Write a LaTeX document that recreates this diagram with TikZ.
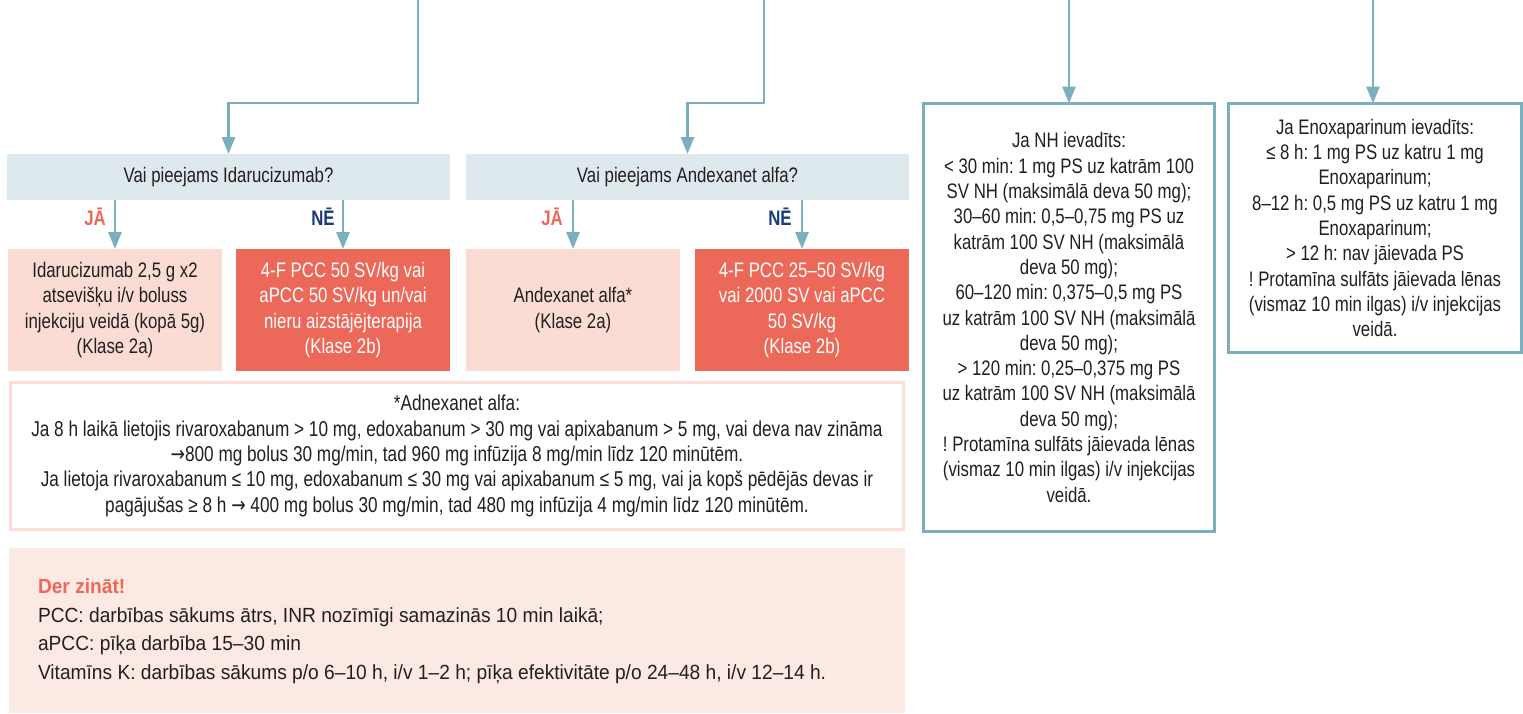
\documentclass[tikz,border=0pt]{standalone}
\usepackage{fontspec}
\setmainfont[FakeStretch=0.8]{Liberation Sans}
\newfontfamily\widefont[FakeStretch=0.935]{Liberation Sans}
\newfontfamily\arrowfont[FakeStretch=0.8]{DejaVu Sans}
\newcommand{\rarr}{{\arrowfont →}}
\usetikzlibrary{arrows.meta,calc}
\definecolor{teal}{HTML}{7BAFBD}
\definecolor{qfill}{HTML}{DEE9ED}
\definecolor{lpink}{HTML}{FADCD4}
\definecolor{redbox}{HTML}{EC6858}
\definecolor{nborder}{HTML}{FBDFD7}
\definecolor{bfill}{HTML}{FCE9E3}
\definecolor{navy}{HTML}{163A7A}
\definecolor{txt}{HTML}{231F20}
\frenchspacing
\begin{document}
\frenchspacing
\begin{tikzpicture}[x=1pt,y=-1pt,
  every node/.style={font=\fontsize{21}{25.3}\selectfont\frenchspacing, text=txt, inner sep=0pt, outer sep=0pt},
  arr/.style={draw=teal, line width=2.8pt, -{Triangle[width=13pt,length=17pt]}},
  qbox/.style={fill=qfill, minimum width=443pt, minimum height=46pt},
  yesbox/.style={fill=lpink, minimum width=214pt, minimum height=122pt, align=center},
  nobox/.style={fill=redbox, minimum width=214pt, minimum height=122pt, align=center, text=white},
  hepbox/.style={draw=teal, line width=2.8pt, fill=white, align=center},
  yeslbl/.style={text=redbox, font=\fontsize{21}{25}\selectfont\bfseries},
  nolbl/.style={text=navy, font=\fontsize{21}{25}\selectfont\bfseries}]
\useasboundingbox (0,0) rectangle (1523,713);

% question boxes
\node[qbox] (q1) at (228.5,177) {Vai pieejams Idarucizumab?};
\node[qbox] (q2) at (687.5,177) {Vai pieejams Andexanet alfa?};

% result boxes
\node[yesbox] (r1) at (115,310) {Idarucizumab 2,5 g x2\\atsevišķu i/v boluss\\injekciju veidā (kopā 5g)\\(Klase 2a)};
\node[nobox] (r2) at (343,310) {4-F PCC 50 SV/kg vai\\aPCC 50 SV/kg un/vai\\nieru aizstājējterapija\\(Klase 2b)};
\node[yesbox] (r3) at (573,310) {Andexanet alfa*\\(Klase 2a)};
\node[nobox] (r4) at (802,310) {4-F PCC 25–50 SV/kg\\vai 2000 SV vai aPCC\\50 SV/kg\\(Klase 2b)};

% note box
\node[draw=nborder, line width=2.8pt, fill=white, minimum width=893pt, minimum height=147pt, align=center,
      font=\fontsize{21.5}{25.3}\selectfont\frenchspacing] (note) at (457,456)
 {*Adnexanet alfa:\\
 Ja 8 h laikā lietojis rivaroxabanum > 10 mg, edoxabanum > 30 mg vai apixabanum > 5 mg, vai deva nav zināma\\
 \rarr800 mg bolus 30 mg/min, tad 960 mg infūzija 8 mg/min līdz 120 minūtēm.\\
 Ja lietoja rivaroxabanum ≤ 10 mg, edoxabanum ≤ 30 mg vai apixabanum ≤ 5 mg, vai ja kopš pēdējās devas ir\\
 pagājušas ≥ 8 h \rarr{} 400 mg bolus 30 mg/min, tad 480 mg infūzija 4 mg/min līdz 120 minūtēm.};

% bottom info box
\node[fill=bfill, minimum width=896pt, minimum height=165pt] (info) at (457,630.5) {};
\node[anchor=west, align=left, font=\widefont\fontsize{20.5}{28.5}\selectfont\frenchspacing] (infotxt) at (38,631)
 {\textcolor{redbox}{\bfseries Der zināt!}\\
 PCC: darbības sākums ātrs, INR nozīmīgi samazinās 10 min laikā;\\
 aPCC: pīķa darbība 15–30 min\\
 Vitamīns K: darbības sākums p/o 6–10 h, i/v 1–2 h; pīķa efektivitāte p/o 24–48 h, i/v 12–14 h.};

% heparin boxes
\node[hepbox, minimum width=291pt, minimum height=428pt] (nh) at (1069,317.5)
 {Ja NH ievadīts:\\
 < 30 min: 1 mg PS uz katrām 100\\
 SV NH (maksimālā deva 50 mg);\\
 30–60 min: 0,5–0,75 mg PS uz\\
 katrām 100 SV NH (maksimālā\\
 deva 50 mg);\\
 60–120 min: 0,375–0,5 mg PS\\
 uz katrām 100 SV NH (maksimālā\\
 deva 50 mg);\\
 > 120 min: 0,25–0,375 mg PS\\
 uz katrām 100 SV NH (maksimālā\\
 deva 50 mg);\\
 ! Protamīna sulfāts jāievada lēnas\\
 (vismaz 10 min ilgas) i/v injekcijas\\
 veidā.};
\node[hepbox, minimum width=293pt, minimum height=249pt] (enox) at (1375,228)
 {Ja Enoxaparinum ievadīts:\\
 ≤ 8 h: 1 mg PS uz katru 1 mg\\
 Enoxaparinum;\\
 8–12 h: 0,5 mg PS uz katru 1 mg\\
 Enoxaparinum;\\
 > 12 h: nav jāievada PS\\
 ! Protamīna sulfāts jāievada lēnas\\
 (vismaz 10 min ilgas) i/v injekcijas\\
 veidā.};

% incoming connectors
\coordinate (s1) at (418,0);
\coordinate (s2) at (764,0);
\coordinate (s3) at (1069,0);
\coordinate (s4) at (1373,0);
\draw[arr] (s1) -- ++(0,103) -| (q1.north);
\draw[arr] (s2) -- ++(0,103) -| (q2.north);
\draw[arr] (s3) -- (nh.north);
\draw[arr] (s4) -- (s4 |- enox.north);

% yes/no connectors
\draw[arr] (q1.south -| r1.north) -- (r1.north);
\draw[arr] (q1.south -| r2.north) -- (r2.north);
\draw[arr] (q2.south -| r3.north) -- (r3.north);
\draw[arr] (q2.south -| r4.north) -- (r4.north);

\node[yeslbl] (y1) at (95,217) {JĀ};
\node[nolbl] (n1) at (323,217) {NĒ};
\node[yeslbl] (y2) at (552,217) {JĀ};
\node[nolbl] (n2) at (780,217) {NĒ};
\end{tikzpicture}
\end{document}
